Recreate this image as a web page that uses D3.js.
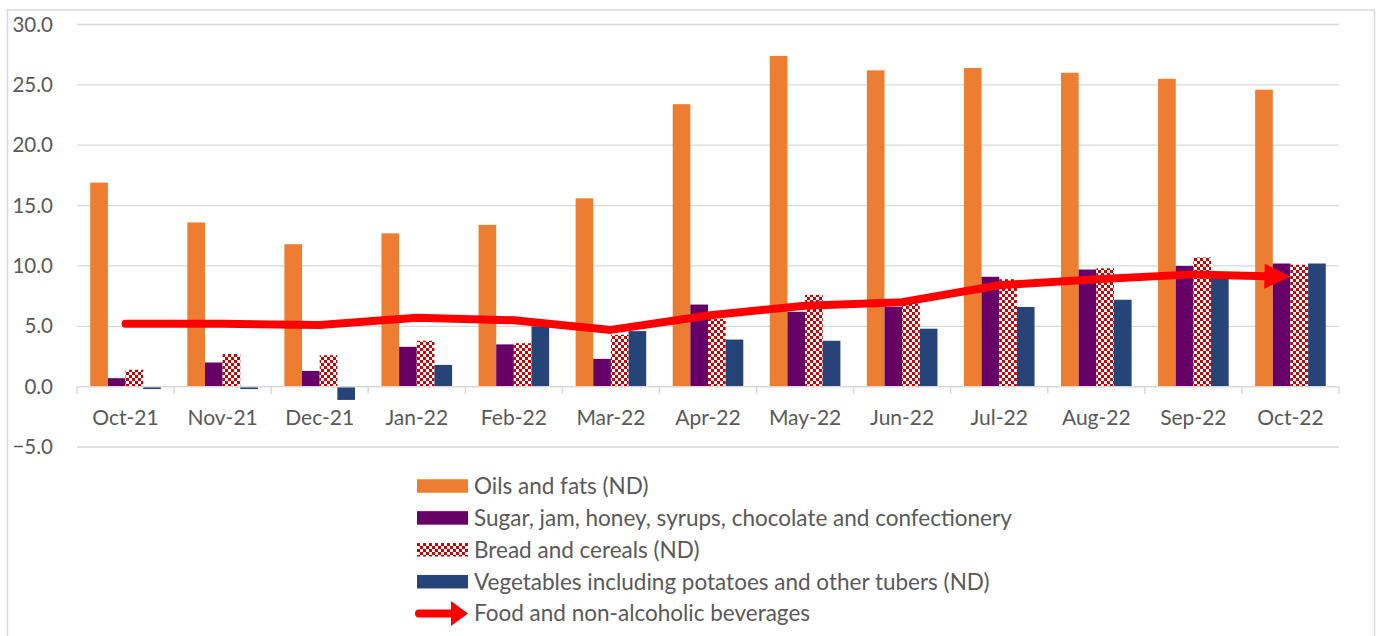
<!DOCTYPE html>
<html>
<head>
<meta charset="utf-8">
<script src="https://cdn.jsdelivr.net/npm/d3@7"></script>
<style>
  html, body { margin: 0; padding: 0; background: #ffffff; }
  svg { display: block; font-family: Lato, "Open Sans", sans-serif; }
</style>
</head>
<body>
<svg id="chart" width="1382" height="636"></svg>
<script>
const categories = ["Oct-21","Nov-21","Dec-21","Jan-22","Feb-22","Mar-22","Apr-22","May-22","Jun-22","Jul-22","Aug-22","Sep-22","Oct-22"];
const oilsFats   = [16.9, 13.6, 11.8, 12.7, 13.4, 15.6, 23.4, 27.4, 26.2, 26.4, 26.0, 25.5, 24.6];
const sugarEtc   = [0.7, 2.0, 1.3, 3.3, 3.5, 2.3, 6.8, 6.2, 6.6, 9.1, 9.7, 10.0, 10.2];
const bread      = [1.4, 2.7, 2.6, 3.8, 3.6, 4.3, 5.6, 7.6, 6.9, 8.9, 9.8, 10.7, 10.1];
const vegetables = [-0.2, -0.2, -1.1, 1.8, 5.0, 4.6, 3.9, 3.8, 4.8, 6.6, 7.2, 9.1, 10.2];
const foodBev    = [5.2, 5.2, 5.1, 5.7, 5.5, 4.7, 5.9, 6.7, 7.0, 8.4, 8.9, 9.3, 9.1];
const yTicks = [-5, 0, 5, 10, 15, 20, 25, 30];
const seriesNames = ["Oils and fats (ND)", "Sugar, jam, honey, syrups, chocolate and confectionery", "Bread and cereals (ND)", "Vegetables including potatoes and other tubers (ND)"];
const lineName = "Food and non-alcoholic beverages";

const barSeries = [oilsFats, sugarEtc, bread, vegetables];
const fills = ["#ED7D31", "#660066", "url(#checker)", "#264478"];

const svg = d3.select("#chart");
const textColor = "#595959";
const gridColor = "#D9D9D9";

// defs: checker pattern
const defs = svg.append("defs");
const pat = defs.append("pattern").attr("id", "checker").attr("patternUnits", "userSpaceOnUse")
  .attr("width", 6).attr("height", 6);
pat.append("rect").attr("width", 6).attr("height", 6).attr("fill", "#ffffff");
pat.append("rect").attr("x", 0).attr("y", 0).attr("width", 3).attr("height", 3).attr("fill", "#CC0000");
pat.append("rect").attr("x", 3).attr("y", 3).attr("width", 3).attr("height", 3).attr("fill", "#CC0000");

// border
svg.append("rect").attr("x", 7.5).attr("y", 10).attr("width", 1367).attr("height", 640)
  .attr("fill", "none").attr("stroke", gridColor).attr("stroke-width", 1.5);

const x0 = d3.scaleBand().domain(categories).range([77, 1339]).paddingInner(0).paddingOuter(0);
const bw = x0.bandwidth();
const x1 = d3.scaleBand().domain(d3.range(barSeries.length)).range([bw * 0.75 / 5.5, bw - bw * 0.75 / 5.5]).padding(0);
const y = d3.scaleLinear().domain([-5, 30]).range([447, 24.5]);

// gridlines
svg.append("g").selectAll("line").data(yTicks.filter(t => t !== 0)).join("line")
  .attr("x1", 77).attr("x2", 1339)
  .attr("y1", d => y(d)).attr("y2", d => y(d))
  .attr("stroke", gridColor).attr("stroke-width", 1.3);

// y labels
svg.append("g").selectAll("text").data(yTicks).join("text")
  .attr("x", 53).attr("y", d => y(d) + 7)
  .attr("text-anchor", "end").attr("font-size", 20.5).attr("fill", textColor)
  .text(d => d3.format(".1f")(d));

// bars
const groups = svg.append("g").selectAll("g").data(barSeries).join("g")
  .attr("fill", (d, i) => fills[i]);
groups.selectAll("rect").data((s, si) => s.map((v, ci) => ({ v, ci, si }))).join("rect")
  .attr("x", d => x0(categories[d.ci]) + x1(d.si))
  .attr("width", x1.bandwidth())
  .attr("y", d => y(Math.max(0, d.v)))
  .attr("height", d => Math.abs(y(d.v) - y(0)));

// x axis line + ticks
const axisG = svg.append("g");
axisG.append("line").attr("x1", 77).attr("x2", 1339).attr("y1", y(0)).attr("y2", y(0))
  .attr("stroke", gridColor).attr("stroke-width", 1.5);
const tickXs = categories.map(c => x0(c)).concat([x0(categories[categories.length - 1]) + bw]);
axisG.selectAll("line.tk").data(tickXs).join("line").attr("class", "tk")
  .attr("x1", d => d).attr("x2", d => d).attr("y1", y(0)).attr("y2", y(0) + 7)
  .attr("stroke", gridColor).attr("stroke-width", 1.5);
axisG.selectAll("text").data(categories).join("text")
  .attr("x", d => x0(d) + bw / 2).attr("y", y(0) + 38)
  .attr("text-anchor", "middle").attr("font-size", 21).attr("fill", textColor)
  .text(d => d);

// line with arrow
const pts = foodBev.map((v, i) => [x0(categories[i]) + bw / 2, y(v)]);
const headLen = 26, headW = 25;
const last = pts[pts.length - 1], prev = pts[pts.length - 2];
const ang = Math.atan2(last[1] - prev[1], last[0] - prev[0]);
const lineEnd = [last[0] - (headLen - 2) * Math.cos(ang), last[1] - (headLen - 2) * Math.sin(ang)];
const linePts = pts.slice(0, -1).concat([lineEnd]);
svg.append("path").attr("d", d3.line()(linePts))
  .attr("fill", "none").attr("stroke", "#FF0000").attr("stroke-width", 8)
  .attr("stroke-linecap", "round").attr("stroke-linejoin", "round");
function arrowHead(tip, a, len, w) {
  const bx = tip[0] - len * Math.cos(a), by = tip[1] - len * Math.sin(a);
  const px = -Math.sin(a) * w / 2, py = Math.cos(a) * w / 2;
  return `M${tip[0]},${tip[1]}L${bx + px},${by + py}L${bx - px},${by - py}Z`;
}
svg.append("path").attr("d", arrowHead(last, ang, headLen, headW)).attr("fill", "#FF0000");

// legend
const legY0 = 486, legStep = 31.9, legX = 417, legTextX = 474;
const leg = svg.append("g");
seriesNames.forEach((name, i) => {
  const cy = legY0 + i * legStep;
  leg.append("rect").attr("x", legX).attr("y", cy - 6.75).attr("width", 51).attr("height", 13.5).attr("fill", fills[i]);
  leg.append("text").attr("x", legTextX).attr("y", cy + 7.8).attr("font-size", 22.5).attr("fill", textColor).text(name);
});
{
  const cy = legY0 + 4 * legStep;
  leg.append("line").attr("x1", legX + 2).attr("x2", legX + 36).attr("y1", cy).attr("y2", cy)
    .attr("stroke", "#FF0000").attr("stroke-width", 8).attr("stroke-linecap", "round");
  leg.append("path").attr("d", arrowHead([legX + 51, cy], 0, 17, 25)).attr("fill", "#FF0000");
  leg.append("text").attr("x", legTextX).attr("y", cy + 7.8).attr("font-size", 22.5).attr("fill", textColor).text(lineName);
}
</script>
</body>
</html>
